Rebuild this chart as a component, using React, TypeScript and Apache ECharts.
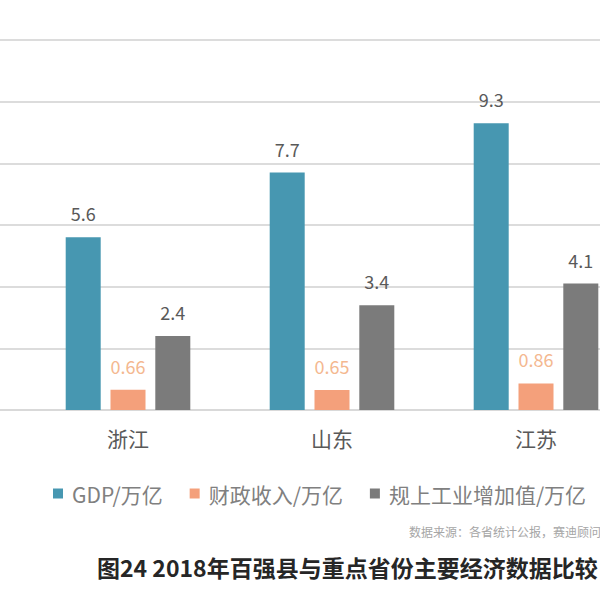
import React, { useEffect, useRef } from "react";
import * as echarts from "echarts";

const categories = ["", "浙江", "山东", "江苏"];
const seriesNames = ["GDP/万亿", "财政收入/万亿", "规上工业增加值/万亿"];
const gdp = [null, 5.6, 7.7, 9.3];
const fiscal = [null, 0.66, 0.65, 0.86];
const industry = [null, 2.4, 3.4, 4.1];
const titleText = "图24 2018年百强县与重点省份主要经济数据比较";
const sourceText = "数据来源：各省统计公报，赛迪顾问";

const FONT = "'Noto Sans CJK SC', 'Noto Sans', sans-serif";
// the chart canvas is wider than the visible 600px window and shifted left,
// so that only part of the plot is visible (as in the cropped reference)
const SHIFT = 178;
const CHART_W = 816;

export default function App() {
  const ref = useRef<HTMLDivElement>(null);
  useEffect(() => {
    document.body.style.margin = "0";
    const chart = echarts.init(ref.current!, undefined, { renderer: "svg" });
    const label = (color: string) => ({
      show: true,
      position: "top",
      distance: 15,
      fontSize: 18,
      color,
      fontFamily: FONT,
    });
    chart.setOption({
      animation: false,
      backgroundColor: "#ffffff",
      textStyle: { fontFamily: FONT },
      title: [
        {
          text: titleText,
          left: SHIFT + 92,
          top: 550,
          textStyle: { fontSize: 23, fontWeight: "bold", color: "#262626", fontFamily: FONT },
        },
        {
          text: sourceText,
          left: SHIFT + 404,
          top: 520,
          textStyle: { fontSize: 12, fontWeight: "normal", color: "#a6a6a6", fontFamily: FONT },
        },
      ],
      legend: {
        left: SHIFT + 48,
        top: 478,
        icon: "rect",
        itemWidth: 10,
        itemHeight: 10,
        itemGap: 27,
        data: seriesNames,
        textStyle: { fontSize: 21, color: "#808080", fontFamily: FONT, padding: [0, 0, 0, 4] },
      },
      grid: { left: 0, right: 0, top: 40, bottom: 190, containLabel: false },
      xAxis: {
        type: "category",
        data: categories,
        axisLine: { show: true, lineStyle: { color: "#d9d9d9", width: 2 } },
        axisTick: { show: false },
        axisLabel: { fontSize: 21, color: "#595959", margin: 17, fontFamily: FONT },
      },
      yAxis: {
        type: "value",
        min: 0,
        max: 12,
        interval: 2,
        axisLabel: { show: false },
        axisLine: { show: false },
        axisTick: { show: false },
        splitLine: { lineStyle: { color: "#dcdcdc", width: 2 } },
      },
      series: [
        {
          name: seriesNames[0],
          type: "bar",
          data: gdp,
          barWidth: 35,
          barGap: "28%",
          itemStyle: { color: "#4797b1" },
          label: label("#595959"),
        },
        {
          name: seriesNames[1],
          type: "bar",
          data: fiscal,
          barWidth: 35,
          barGap: "28%",
          itemStyle: { color: "#f4a07b" },
          label: label("#f4b890"),
        },
        {
          name: seriesNames[2],
          type: "bar",
          data: industry,
          barWidth: 35,
          barGap: "28%",
          itemStyle: { color: "#7b7b7b" },
          label: label("#595959"),
        },
      ],
    });
    return () => chart.dispose();
  }, []);
  return (
    <div style={{ width: 600, height: 600, position: "absolute", left: 0, top: 0, overflow: "hidden" }}>
      <div ref={ref} style={{ width: CHART_W, height: 600, position: "absolute", left: -SHIFT, top: 0 }} />
    </div>
  );
}
